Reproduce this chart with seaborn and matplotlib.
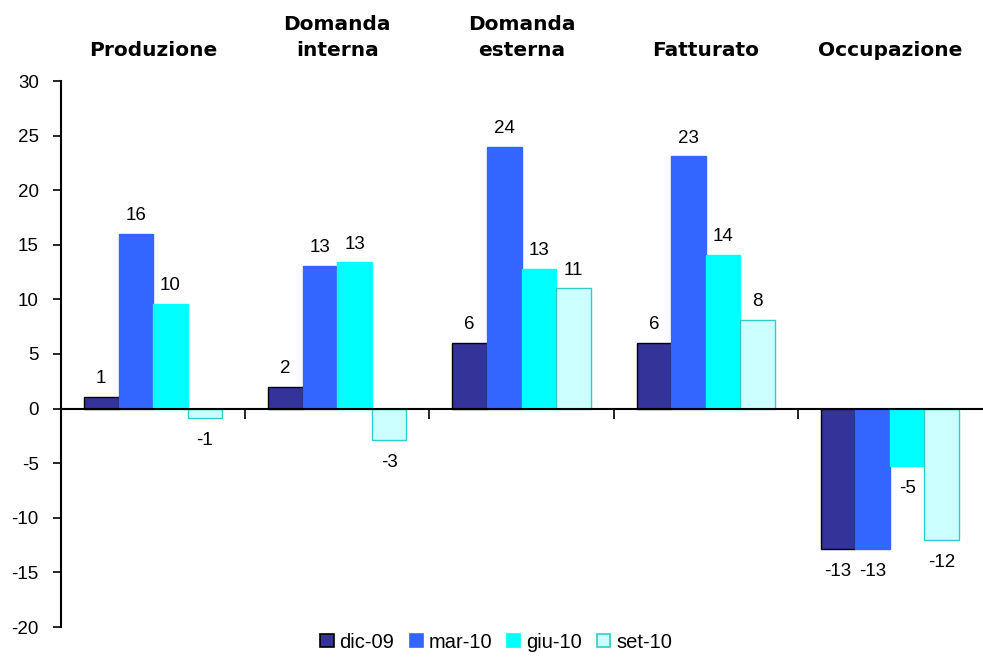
import matplotlib
matplotlib.use("Agg")
import matplotlib.pyplot as plt
import seaborn as sns
import pandas as pd
import numpy as np

categories = ["Produzione", "Domanda\ninterna", "Domanda\nesterna", "Fatturato", "Occupazione"]
series = ["dic-09", "mar-10", "giu-10", "set-10"]
dic_09 = [1.1, 2.0, 6.0, 6.0, -12.9]
mar_10 = [16.0, 13.1, 24.0, 23.1, -12.9]
giu_10 = [9.6, 13.4, 12.8, 14.1, -5.3]
set_10 = [-0.9, -2.9, 11.0, 8.1, -12.0]
yticks = [-20, -15, -10, -5, 0, 5, 10, 15, 20, 25, 30]

values = [dic_09, mar_10, giu_10, set_10]
rows = []
for s, vals in zip(series, values):
    for c, v in zip(categories, vals):
        rows.append({"cat": c, "serie": s, "val": v})
df = pd.DataFrame(rows)

sns.set_style("white")
plt.rcParams["font.family"] = ["Liberation Sans", "DejaVu Sans"]
plt.rcParams["text.color"] = "black"
plt.rcParams["xtick.color"] = "black"
plt.rcParams["ytick.color"] = "black"

colors = ["#333399", "#3366FF", "#00FFFF", "#CCFFFF"]
edges = ["#000000", "#3366FF", "#00FFFF", "#33CCCC"]

fig = plt.figure(figsize=(9.83, 6.58), dpi=100)
ax = fig.add_axes([61 / 983, 1 - 627 / 658, (982 - 61) / 983, (627 - 81) / 658])

sns.barplot(data=df, x="cat", y="val", hue="serie", order=categories,
            hue_order=series, palette=colors, width=0.75, gap=0,
            ax=ax, legend=False, saturation=1)

for cont, ec, s in zip(ax.containers, edges, series):
    for bar in cont:
        bar.set_edgecolor(ec)
        bar.set_linewidth(1.0)
    for bar in cont:
        h = bar.get_height()
        x = bar.get_x() + bar.get_width() / 2
        lab = f"{int(np.round(h)):d}"
        if h >= 0:
            ax.annotate(lab, (x, h), xytext=(0, 7), textcoords="offset points",
                        ha="center", va="bottom", fontsize=13.5, color="black")
        else:
            ax.annotate(lab, (x, h), xytext=(0, -10), textcoords="offset points",
                        ha="center", va="top", fontsize=13.5, color="black")

ax.set_xlim(-0.5, 4.5)
ax.set_ylim(-20, 30)
ax.set_yticks(yticks)
ax.set_yticklabels([str(t) for t in yticks], fontsize=13.5)
ax.set_xticks([0.5, 1.5, 2.5, 3.5])
ax.set_xticklabels([])
ax.set_xlabel("")
ax.set_ylabel("")

for sp in ["top", "right"]:
    ax.spines[sp].set_visible(False)
ax.spines["left"].set_color("black")
ax.spines["left"].set_linewidth(1.5)
ax.spines["bottom"].set_position(("data", 0))
ax.spines["bottom"].set_color("black")
ax.spines["bottom"].set_linewidth(1.5)
ax.tick_params(axis="y", direction="out", length=6, width=1.2, color="black", pad=10, left=True)
ax.tick_params(axis="x", direction="out", length=7, width=1.2, color="black", bottom=True)

for i, c in enumerate(categories):
    ax.annotate(c, (i, 1.0), xycoords=("data", "axes fraction"), xytext=(0, 15),
                textcoords="offset points", ha="center", va="bottom",
                fontsize=14.5, fontweight="bold", family="DejaVu Sans",
                linespacing=1.45, color="black")

handles = [plt.Rectangle((0, 0), 1, 1, facecolor=fc, edgecolor=ec, linewidth=1.2)
           for fc, ec in zip(colors, edges)]
fig.legend(handles, series, loc="lower center", bbox_to_anchor=(0.505, -0.018),
           ncol=4, frameon=False, fontsize=14.5, handlelength=0.65, handleheight=0.65,
           handletextpad=0.3, columnspacing=0.75)

fig.savefig("out.png", dpi=100)
